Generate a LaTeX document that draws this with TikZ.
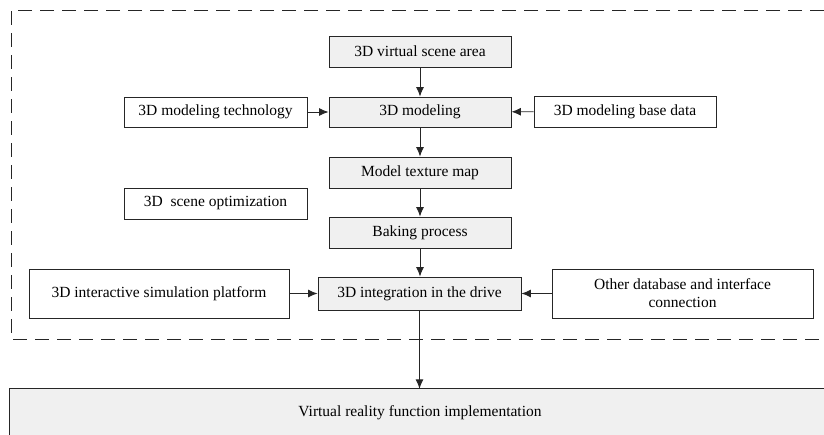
\documentclass[tikz,border=0pt]{standalone}
\usepackage{fontspec}
\setmainfont{Liberation Serif}
\usetikzlibrary{arrows.meta}
\definecolor{boxgray}{HTML}{F0F0F0}
\begin{document}
\begin{tikzpicture}[x=1pt,y=-1pt,
  box/.style={draw=black!85, line width=0.9pt, rectangle, inner sep=0pt, font=\fontsize{15.5}{18}\selectfont, align=center},
  gbox/.style={box, fill=boxgray},
  arr/.style={-{Latex[length=9.5pt,width=8pt]}, line width=0.9pt, black!85},
  dashbox/.style={draw=black!85, line width=0.9pt, dash pattern=on 14pt off 8pt}
]
\useasboundingbox (0,0) rectangle (824,434);
% dashed region
\draw[dashbox] (824,10) -- (11,10) -- (11,339) -- (824,339);
% main chain
\node[gbox, minimum width=182pt, minimum height=31pt] (area) at (420,51.5) {3D virtual scene area};
\node[gbox, minimum width=182pt, minimum height=30pt] (model) at (420,112) {3D modeling};
\node[gbox, minimum width=182pt, minimum height=31pt] (tex) at (420,172.5) {Model texture map};
\node[gbox, minimum width=182pt, minimum height=31pt] (bake) at (420,232.5) {Baking process};
\node[gbox, minimum width=203pt, minimum height=33pt] (integ) at (419.5,293.5) {3D integration in the drive};
% side boxes
\node[box, minimum width=183pt, minimum height=30pt] (tech) at (215.5,112) {3D modeling technology};
\node[box, minimum width=182pt, minimum height=31pt] (base) at (625,111.5) {3D modeling base data};
\node[box, minimum width=183pt, minimum height=31pt] (opt) at (215.5,203.5) {3D\ \ scene optimization};
\node[box, minimum width=260pt, minimum height=49pt] (sim) at (159,293.5) {3D interactive simulation platform};
\node[box, minimum width=261pt, minimum height=49pt] (other) at (682.5,293.5) {Other database and interface\\connection};
% bottom box
\node[fill=boxgray, minimum width=820pt, minimum height=48pt, inner sep=0pt, font=\fontsize{15.5}{18}\selectfont] (vr) at (420,413) {Virtual reality function implementation};
\draw[line width=0.9pt, black!85] (vr.north east) -- (vr.north west) -- (vr.south west);
% arrows
\draw[arr] (area) -- (model);
\draw[arr] (model) -- (tex);
\draw[arr] (tex) -- (bake);
\draw[arr] (bake) -- (bake |- integ.north);
\draw[arr] (tech) -- (model);
\draw[arr] (base) -- (model);
\draw[arr] (sim) -- (integ);
\draw[arr] (other) -- (integ);
\draw[arr] (integ.south) -- (integ.south |- vr.north);
\end{tikzpicture}
\end{document}
